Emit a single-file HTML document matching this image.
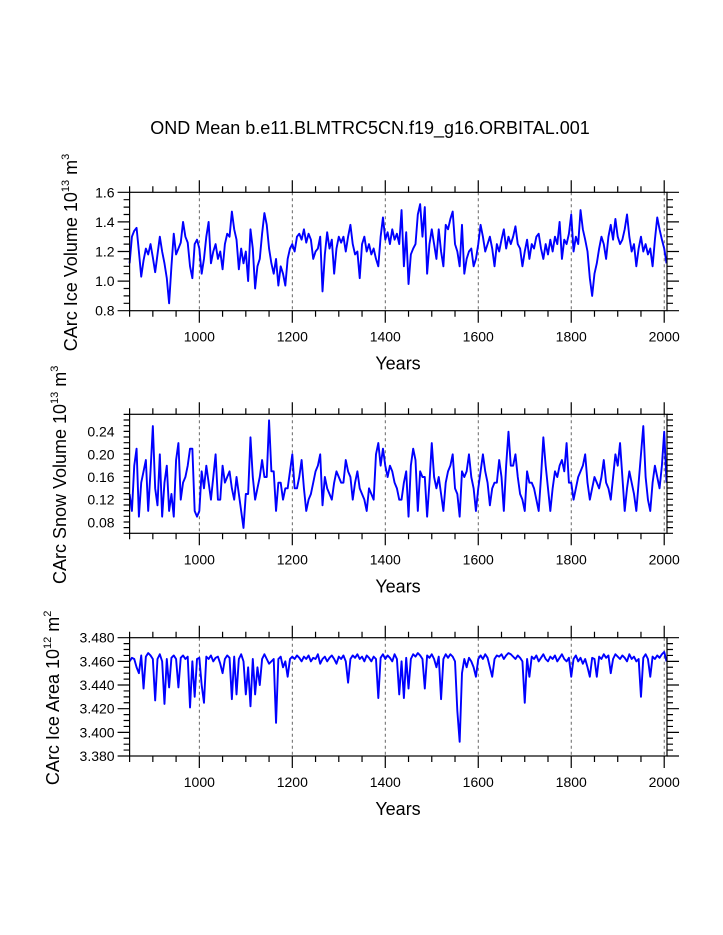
<!DOCTYPE html>
<html><head><meta charset="utf-8"><style>
html,body{margin:0;padding:0;background:#fff;}
svg{display:block;font-family:"Liberation Sans",sans-serif;}
</style></head><body>
<svg id="chart" width="723" height="935" viewBox="0 0 723 935" xmlns="http://www.w3.org/2000/svg">
<rect width="723" height="935" fill="#fff"/>
<text x="370" y="134" font-size="18" text-anchor="middle">OND Mean b.e11.BLMTRC5CN.f19_g16.ORBITAL.001</text>
<g id="panels"></g>
</svg>
<script>
const startYear = 850;
const stepYears = 5;
const xTickLabels = ["1000","1200","1400","1600","1800","2000"];
const iceVolume = [
1.12,1.30,1.34,1.36,1.20,1.03,1.14,1.22,1.18,1.25,
1.16,1.06,1.18,1.30,1.20,1.12,1.02,0.85,1.10,1.32,1.18,1.22,1.26,1.40,1.30,1.26,1.10,1.02,1.25,1.28,
1.22,1.05,1.15,1.30,1.40,1.12,1.20,1.25,1.15,1.20,1.08,1.25,1.32,1.30,1.47,1.35,1.28,1.08,1.22,1.12,
1.20,1.00,1.35,1.22,0.95,1.10,1.15,1.32,1.46,1.38,1.22,1.12,1.05,1.15,0.97,1.10,1.05,0.97,1.15,1.22,
1.25,1.20,1.30,1.32,1.28,1.35,1.26,1.32,1.28,1.15,1.20,1.22,1.30,0.93,1.18,1.33,1.22,1.28,1.05,1.22,
1.30,1.26,1.30,1.20,1.30,1.38,1.25,1.18,1.20,1.02,1.25,1.30,1.20,1.25,1.18,1.22,1.15,1.10,1.30,1.43,
1.28,1.33,1.25,1.35,1.28,1.32,1.25,1.48,1.10,1.33,0.98,1.18,1.22,1.25,1.45,1.52,1.30,1.50,1.05,1.25,
1.35,1.25,1.15,1.35,1.20,1.10,1.38,1.35,1.42,1.47,1.25,1.20,1.10,1.38,1.05,1.15,1.20,1.22,1.10,1.15,
1.25,1.38,1.30,1.20,1.25,1.30,1.22,1.10,1.25,1.20,1.28,1.35,1.22,1.30,1.25,1.30,1.37,1.25,1.22,1.10,
1.20,1.28,1.15,1.25,1.22,1.30,1.32,1.22,1.15,1.25,1.18,1.28,1.20,1.30,1.25,1.40,1.15,1.28,1.25,1.32,
1.45,1.20,1.30,1.25,1.48,1.35,1.28,1.20,1.02,0.90,1.05,1.12,1.22,1.30,1.25,1.15,1.30,1.38,1.28,1.42,
1.30,1.25,1.28,1.35,1.45,1.30,1.20,1.25,1.10,1.22,1.30,1.20,1.25,1.18,1.22,1.10,1.28,1.43,1.35,1.28,
1.22,1.12];
const volTicks = ["0.8","1.0","1.2","1.4","1.6"];
const snowVolume = [
0.13,0.10,0.18,0.21,0.09,0.15,0.17,0.19,0.10,0.17,
0.25,0.14,0.11,0.20,0.09,0.15,0.18,0.10,0.13,0.09,0.19,0.22,0.12,0.15,0.16,0.18,0.21,0.21,0.10,0.09,
0.10,0.17,0.14,0.18,0.15,0.12,0.16,0.20,0.12,0.12,0.18,0.15,0.16,0.17,0.14,0.12,0.16,0.13,0.10,0.07,
0.13,0.13,0.23,0.16,0.12,0.14,0.16,0.19,0.16,0.16,0.26,0.17,0.17,0.10,0.15,0.15,0.12,0.14,0.14,0.17,
0.20,0.14,0.14,0.16,0.19,0.14,0.10,0.12,0.13,0.15,0.17,0.18,0.20,0.11,0.16,0.14,0.13,0.12,0.15,0.17,
0.16,0.15,0.15,0.19,0.17,0.16,0.12,0.15,0.17,0.14,0.13,0.12,0.10,0.14,0.13,0.12,0.20,0.22,0.18,0.21,
0.18,0.16,0.18,0.17,0.15,0.14,0.12,0.12,0.15,0.17,0.09,0.18,0.21,0.19,0.10,0.17,0.16,0.16,0.09,0.15,
0.22,0.16,0.14,0.16,0.13,0.10,0.15,0.17,0.18,0.20,0.14,0.13,0.09,0.17,0.16,0.17,0.20,0.16,0.14,0.10,
0.14,0.17,0.20,0.17,0.15,0.11,0.14,0.15,0.15,0.19,0.16,0.10,0.18,0.24,0.18,0.18,0.20,0.16,0.13,0.12,
0.10,0.17,0.15,0.15,0.14,0.12,0.10,0.16,0.23,0.18,0.14,0.10,0.14,0.17,0.16,0.18,0.19,0.17,0.22,0.15,
0.15,0.12,0.14,0.16,0.17,0.18,0.20,0.15,0.12,0.14,0.16,0.15,0.14,0.16,0.19,0.15,0.14,0.12,0.16,0.20,
0.18,0.22,0.16,0.10,0.14,0.17,0.15,0.13,0.10,0.15,0.20,0.25,0.16,0.12,0.10,0.15,0.18,0.16,0.14,0.18,
0.24,0.15];
const snowTicks = ["0.08","0.12","0.16","0.20","0.24"];
const iceArea = [
3.460,3.463,3.462,3.455,3.450,3.465,3.437,3.464,3.467,3.465,
3.462,3.427,3.462,3.466,3.460,3.424,3.462,3.438,3.463,3.465,3.462,3.438,3.463,3.465,3.462,3.464,3.421,3.460,3.430,3.462,
3.463,3.440,3.425,3.464,3.462,3.465,3.460,3.463,3.464,3.458,3.450,3.462,3.465,3.463,3.428,3.464,3.432,3.462,3.466,3.460,
3.432,3.455,3.422,3.462,3.432,3.455,3.440,3.462,3.466,3.462,3.458,3.460,3.462,3.408,3.462,3.464,3.455,3.460,3.447,3.462,
3.464,3.462,3.465,3.463,3.460,3.464,3.462,3.465,3.460,3.463,3.462,3.466,3.458,3.462,3.464,3.460,3.463,3.465,3.462,3.458,
3.464,3.462,3.465,3.460,3.442,3.462,3.465,3.463,3.466,3.462,3.464,3.460,3.465,3.463,3.460,3.464,3.462,3.429,3.463,3.466,
3.462,3.465,3.463,3.460,3.466,3.462,3.432,3.460,3.429,3.463,3.437,3.462,3.466,3.464,3.467,3.465,3.462,3.437,3.465,3.463,
3.466,3.462,3.455,3.464,3.428,3.462,3.466,3.463,3.466,3.464,3.460,3.418,3.392,3.450,3.462,3.455,3.463,3.460,3.455,3.447,
3.462,3.465,3.462,3.466,3.463,3.455,3.447,3.462,3.465,3.464,3.466,3.462,3.465,3.467,3.466,3.464,3.462,3.465,3.463,3.460,
3.425,3.462,3.447,3.464,3.462,3.465,3.460,3.463,3.466,3.462,3.460,3.464,3.462,3.465,3.460,3.463,3.466,3.462,3.460,3.463,
3.447,3.462,3.465,3.460,3.463,3.458,3.462,3.455,3.447,3.463,3.462,3.447,3.464,3.462,3.466,3.463,3.465,3.450,3.462,3.466,
3.464,3.462,3.465,3.463,3.460,3.466,3.462,3.464,3.460,3.462,3.430,3.463,3.466,3.462,3.447,3.464,3.462,3.465,3.463,3.466,
3.468,3.460];
const areaTicks = ["3.380","3.400","3.420","3.440","3.460","3.480"];

const NS = "http://www.w3.org/2000/svg";
const root = document.getElementById('panels');
const X0 = 129.6, X1 = 667, YR0 = 850, YR1 = 2006;
function xScale(yr){ return X0 + (yr - YR0) * (X1 - X0) / (YR1 - YR0); }
function mk(tag, attrs){ const e = document.createElementNS(NS, tag); for (const k in attrs) e.setAttribute(k, attrs[k]); return e; }

function drawPanel(p){
  const g = mk('g', {});
  
  
  root.appendChild(g);
  const yScale = v => p.bot - (v - p.vmin) * (p.bot - p.top) / (p.vmax - p.vmin);
  xTickLabels.forEach(t => {
    const x = xScale(+t);
    const l = mk('line', {x1:x, x2:x, y1:p.top, y2:p.bot, stroke:'#555', 'stroke-width':0.9, 'stroke-dasharray':'3,3'});
    
    
    g.appendChild(l);
  });
  let d = '';
  p.data.forEach((v, i) => { const x = xScale(startYear + i * stepYears); d += (i ? 'L' : 'M') + x.toFixed(2) + ',' + yScale(v).toFixed(2); });
  const path = mk('path', {d:d, fill:'none', stroke:'#0000ff', 'stroke-width':1.9, 'stroke-linejoin':'round'});
  
  
  g.appendChild(path);
  const fr = mk('rect', {x:X0, y:p.top, width:X1 - X0, height:p.bot - p.top, fill:'none', stroke:'#000', 'stroke-width':1.2});
  
  
  g.appendChild(fr);
  let td = '';
  for (let yr = 850; yr <= 2000; yr += 50) {
    const x = xScale(yr); const major = yr % 200 === 0; const L = major ? 12 : 6;
    td += `M${x},${p.top}v${-L}M${x},${p.bot}v${L}`;
  }
  const nMinor = Math.round((p.vmax - p.vmin) / p.minor);
  for (let k = 0; k <= nMinor; k++) {
    const v = p.vmin + k * p.minor; const y = yScale(v);
    const major = Math.abs(((v - p.majorBase) / p.major) - Math.round((v - p.majorBase) / p.major)) < 1e-3;
    const L = major ? 12 : 6;
    td += `M${X0},${y}h${-L}M${X1},${y}h${L}`;
  }
  const ticks = mk('path', {d:td, stroke:'#000', 'stroke-width':1.2, fill:'none'});
  
  
  g.appendChild(ticks);
  xTickLabels.forEach(t => {
    const tx = mk('text', {x:xScale(+t), y:p.bot + 31, 'font-size':14, 'text-anchor':'middle'});
    tx.textContent = t;
    
    
    g.appendChild(tx);
  });
  p.ticks.forEach(t => {
    const tx = mk('text', {x:X0 - 15, y:yScale(+t) + 5, 'font-size':14, 'text-anchor':'end'});
    tx.textContent = t;
    
    
    g.appendChild(tx);
  });
  const xt = mk('text', {x:398, y:p.bot + 59, 'font-size':18, 'text-anchor':'middle'});
  xt.textContent = 'Years';
  
  
  g.appendChild(xt);
  const yt = mk('text', {x:0, y:0, 'font-size':18, 'text-anchor':'middle', transform:`translate(${p.ytx},${(p.top + p.bot) / 2 + 1}) rotate(-90)`});
  yt.innerHTML = p.ylabel + ' 10<tspan font-size="11" dy="-8">' + p.exp1 + '</tspan><tspan dy="8"> m</tspan><tspan font-size="11" dy="-8">' + p.exp2 + '</tspan>';
  
  
  g.appendChild(yt);
}

drawPanel({name:'ice-volume-panel', data:iceVolume, top:192.3, bot:310.7, vmin:0.8, vmax:1.6, minor:0.05, major:0.2, majorBase:0.8, ticks:volTicks, ylabel:'CArc Ice Volume', exp1:'13', exp2:'3', ytx:77});
drawPanel({name:'snow-volume-panel', data:snowVolume, top:414.3, bot:533.3, vmin:0.0606, vmax:0.2707, minor:0.01, major:0.04, majorBase:0.08, ticks:snowTicks, ylabel:'CArc Snow Volume', exp1:'13', exp2:'3', ytx:66});
drawPanel({name:'ice-area-panel', data:iceArea, top:637.7, bot:756, vmin:3.38, vmax:3.48, minor:0.005, major:0.02, majorBase:3.38, ticks:areaTicks, ylabel:'CArc Ice Area', exp1:'12', exp2:'2', ytx:59});
</script>
</body></html>
